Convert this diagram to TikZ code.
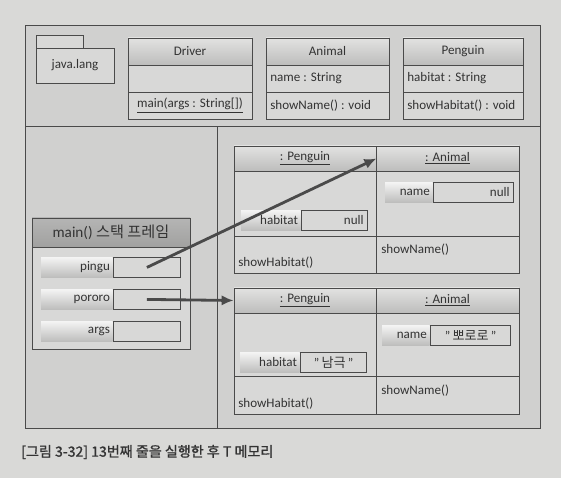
\documentclass[tikz,border=0pt]{standalone}
\usepackage{fontspec}
\setmainfont{Carlito}
\newfontfamily\kr{Noto Sans CJK KR}
\newfontfamily\krcap[FakeBold=1.2]{Noto Sans CJK KR}
\usetikzlibrary{shapes,arrows.meta,positioning,calc,backgrounds,fit}

\definecolor{paper}{HTML}{D9D9D7}
\definecolor{regionfill}{HTML}{D0D0CF}
\definecolor{boxfill}{HTML}{D8D8D7}
\definecolor{titletop}{HTML}{E2E2E1}
\definecolor{titlebot}{HTML}{BDBDBC}
\definecolor{line}{HTML}{4A4A4A}
\definecolor{ink}{HTML}{333333}

\begin{document}
\begin{tikzpicture}[x=0.025cm, y=-0.025cm, font=\fontsize{9.3}{11}\selectfont, text=ink]
  \tikzstyle{region}=[draw=line, semithick, inner sep=0pt, fill=regionfill]
  \tikzstyle{body}=[draw=line, semithick, inner sep=0pt, fill=boxfill]
  \tikzstyle{title}=[draw=line, semithick, inner sep=0pt, top color=titletop, bottom color=titlebot]
  \tikzstyle{sttitle}=[draw=line, semithick, inner sep=0pt, top color=titletop!80!black, bottom color=titlebot!85!black]
  \tikzstyle{member}=[anchor=west, inner sep=0pt]
  \tikzstyle{valbox}=[draw=line, semithick, fill=boxfill, minimum height=0.5cm, inner xsep=3pt, inner ysep=0pt, anchor=north west]
  \tikzstyle{fieldlab}=[top color=white!70!boxfill, bottom color=titlebot, minimum height=0.5cm, inner xsep=2pt, inner ysep=0pt, align=right, anchor=east]
  \tikzstyle{ref}=[line, line width=2pt, -{Latex[length=3mm, width=2.6mm]}]

  % Papier und Rahmen
  \fill[paper] (0,0) rectangle (561,478);
  \node[region, fit={(25,25) (540,126)}] (classes) {};
  \node[region, fit={(25,126) (217,428)}] (stack) {};
  \node[region, fit={(217,126) (540,428)}] (heap) {};

  % Paket
  \node[body, fit={(36,35) (83,48)}] (pkgTab) {};
  \node[body, fit={(36,48) (114,83)}, label=center:java.lang] (pkg) {};

  % Klassen
  \node[title, fit={(128,38) (252,65)}, label=center:Driver] (drvT) {};
  \node[body, fit={(128,65) (252,92)}] (drvA) {};
  \node[body, fit={(128,92) (252,119)}, label={center:\underline{main(args : String[])}}] (drvM) {};

  \node[title, fit={(266,38) (389,65)}, label=center:Animal] (anmT) {};
  \node[body, fit={(266,65) (389,92)}] (anmA) {};
  \node[body, fit={(266,92) (389,119)}] (anmM) {};
  \node[member] (anmAt) at (270,78.5) {name : String};
  \node[member] (anmMt) at (270,105.5) {showName() : void};

  \node[title, fit={(403,38) (523,65)}, label=center:Penguin] (pgnT) {};
  \node[body, fit={(403,65) (523,92)}] (pgnA) {};
  \node[body, fit={(403,92) (523,119)}] (pgnM) {};
  \node[member] (pgnAt) at (407,78.5) {habitat : String};
  \node[member] (pgnMt) at (407,105.5) {showHabitat() : void};

  % Stack frame
  \node[body, fit={(32,218) (190,349)}] (frame) {};
  \node[sttitle, fit={(32,218) (190,247)}, label={[font=\fontsize{10.8}{12}\selectfont]center:main() {\kr 스택 프레임}}] (frameT) {};
  \node[valbox, minimum width=1.675cm] (pingu) at (113,257) {};
  \node[valbox, minimum width=1.675cm] (pororo) at (113,289) {};
  \node[valbox, minimum width=1.675cm] (args) at (113,321) {};
  \node[fieldlab, text width=1.65cm] (pinguL) at (pingu.west) {pingu};
  \node[fieldlab, text width=1.65cm] (pororoL) at (pororo.west) {pororo};
  \node[fieldlab, text width=1.65cm] (argsL) at (args.west) {args};

  % Objekt 1 (pingu)
  \node[title, fit={(234,146) (376,171)}, label={center:\underline{: Penguin}}] (pg1T) {};
  \node[title, fit={(376,146) (519,171)}, label={center:\underline{: Animal}}] (an1T) {};
  \node[body, fit={(234,171) (376,236)}] (pg1A) {};
  \node[body, fit={(376,171) (519,236)}] (an1A) {};
  \node[body, fit={(234,236) (376,273)}] (pg1M) {};
  \node[body, fit={(376,236) (519,273)}] (an1M) {};
  \node[valbox, text width=1.45cm, align=right] (hab1) at (301,210) {null};
  \node[fieldlab, text width=1.35cm] (hab1L) at (hab1.west) {habitat};
  \node[valbox, text width=1.8cm, align=right] (nam1) at (433,182) {null};
  \node[fieldlab, text width=1.05cm] (nam1L) at (nam1.west) {name};
  \node[member] (pg1Mt) at (238,263) {showHabitat()};
  \node[member] (an1Mt) at (381,250) {showName()};

  % Objekt 2 (pororo)
  \node[title, fit={(234,288) (376,313)}, label={center:\underline{: Penguin}}] (pg2T) {};
  \node[title, fit={(376,288) (519,313)}, label={center:\underline{: Animal}}] (an2T) {};
  \node[body, fit={(234,313) (376,376)}] (pg2A) {};
  \node[body, fit={(376,313) (519,376)}] (an2A) {};
  \node[body, fit={(234,376) (376,414)}] (pg2M) {};
  \node[body, fit={(376,376) (519,414)}] (an2M) {};
  \node[valbox, text width=1.45cm, align=center] (hab2) at (300,352) {"\,{\kr 남극}\,"};
  \node[fieldlab, text width=1.35cm] (hab2L) at (hab2.west) {habitat};
  \node[valbox, text width=1.8cm, align=center] (nam2) at (430,325) {"\,{\kr 뽀로로}\,"};
  \node[fieldlab, text width=1.05cm] (nam2L) at (nam2.west) {name};
  \node[member] (pg2Mt) at (238,404) {showHabitat()};
  \node[member] (an2Mt) at (381,391) {showName()};

  % Referenzen
  \draw[ref] (pingu.center) -- (pg1T.east);
  \draw[ref] (pororo.center) -- (pg2T.west);

  % Bildunterschrift
  \node[anchor=west, inner sep=0pt, font=\krcap\fontsize{10}{12}\selectfont, text=black!80] (cap) at (21,452) {[그림 3-32] 13번째 줄을 실행한 후 T 메모리};
\end{tikzpicture}
\end{document}
